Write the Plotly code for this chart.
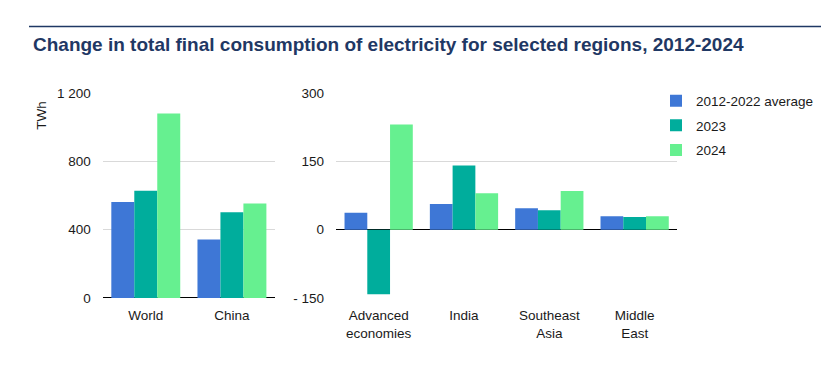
import plotly.graph_objects as go

W, H = 835, 367
OX, OY = 8, 8  # page body margin: screen = figure + offset

series_names = ["2012-2022 average", "2023", "2024"]
colors = ["#3E77D6", "#00AD9C", "#66F090"]

left_categories = ["World", "China"]
left_values = {
    "2012-2022 average": [563, 343],
    "2023": [629, 502],
    "2024": [1082, 553],
}

right_categories = ["Advanced<br>economies", "India", "Southeast<br>Asia", "Middle<br>East"]
right_values = {
    "2012-2022 average": [37.5, 56.5, 47, 29.4],
    "2023": [-142, 141, 42.6, 27.9],
    "2024": [231.6, 80, 85, 29.4],
}

left_ticks = [0, 400, 800, 1200]
left_ticktext = ["0", "400", "800", "1 200"]
right_ticks = [-150, 0, 150, 300]
right_ticktext = ["- 150", "0", "150", "300"]

FONT = "Liberation Sans, Arial, sans-serif"


def px(x):
    return (x - OX) / W


def py(y):
    return 1 - (y - OY) / H


fig = go.Figure()
for name, col in zip(series_names, colors):
    fig.add_trace(go.Bar(x=left_categories, y=left_values[name], name=name,
                         marker=dict(color=col, line=dict(width=0)),
                         xaxis="x", yaxis="y", showlegend=False))
for name, col in zip(series_names, colors):
    fig.add_trace(go.Bar(x=right_categories, y=right_values[name], name=name,
                         legendgroup=name,
                         marker=dict(color=col, line=dict(width=0)),
                         xaxis="x2", yaxis="y2", showlegend=True))

ydom = [py(297.9), py(93.3)]

axis_common = dict(showline=False, ticks="", automargin=False,
                   tickfont=dict(size=13.5, color="#1a1a1a", family=FONT))

fig.update_layout(
    width=W, height=H,
    margin=dict(l=0, r=0, t=0, b=0, autoexpand=False),
    paper_bgcolor="white", plot_bgcolor="white",
    barmode="group", bargap=0.2, bargroupgap=0,
    font=dict(family=FONT, color="#1a1a1a", size=13.5),
    xaxis=dict(domain=[px(102.7), px(275)], anchor="y", showgrid=False,
               zeroline=False, ticklabelstandoff=8, **axis_common),
    yaxis=dict(domain=ydom, anchor="x", range=[0, 1200], tickvals=left_ticks,
               ticktext=left_ticktext, showgrid=True, gridcolor="#d9d9d9", gridwidth=1,
               zeroline=True, zerolinecolor="#000000", zerolinewidth=1.3,
               ticklabelstandoff=11, **axis_common),
    xaxis2=dict(domain=[px(336), px(677.3)], anchor="y2", showgrid=False,
                zeroline=False, ticklabelstandoff=8, **axis_common),
    yaxis2=dict(domain=ydom, anchor="x2", range=[-150, 300], tickvals=right_ticks,
                ticktext=right_ticktext, showgrid=True, gridcolor="#d9d9d9", gridwidth=1,
                zeroline=True, zerolinecolor="#000000", zerolinewidth=1.3,
                ticklabelstandoff=11, **axis_common),
    legend=dict(x=px(656), y=py(85.5), xanchor="left", yanchor="top",
                font=dict(size=13.5, color="#1a1a1a", family=FONT),
                itemwidth=30, tracegroupgap=4, bgcolor="rgba(0,0,0,0)"),
    showlegend=True,
)

fig.add_shape(type="line", xref="paper", yref="paper",
              x0=px(29), x1=px(821), y0=py(26.5), y1=py(26.5),
              line=dict(color="#1f3864", width=1.3))

fig.add_annotation(text="<b>Change in total final consumption of electricity for selected regions, 2012-2024</b>",
                   xref="paper", yref="paper", x=px(31), y=py(44),
                   xanchor="left", yanchor="middle", showarrow=False,
                   font=dict(size=19, color="#1f3864", family=FONT))

fig.add_annotation(text="TWh", xref="paper", yref="paper", x=px(41.7), y=py(115),
                   xanchor="center", yanchor="middle", textangle=-90, showarrow=False,
                   font=dict(size=13.5, color="#1a1a1a", family=FONT))

fig.write_html("out.html")
